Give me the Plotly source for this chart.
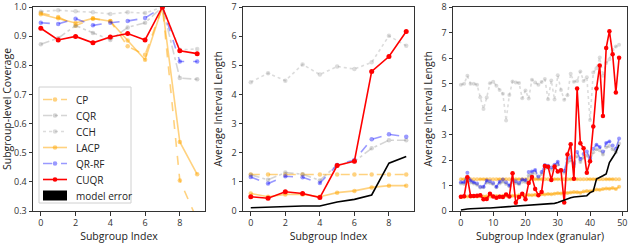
import plotly.graph_objects as go

# ---------------- data ----------------
idx10 = list(range(10))
idx50 = list(range(50))

# Panel 1: subgroup-level coverage
cov_cp = [0.979, 0.966, 0.936, 0.960, 0.952, 0.865, 0.836, 1.0, 0.405, 0.27]
cov_cqr = [0.872, 0.893, 0.936, 0.911, 0.887, 0.930, 0.946, 1.0, 0.756, 0.752]
cov_cch = [0.984, 0.989, 0.985, 0.982, 0.976, 0.982, 0.979, 1.0, 0.853, 0.856]
cov_lacp = [0.975, 0.961, 0.945, 0.961, 0.951, 0.885, 0.819, 1.0, 0.537, 0.426]
cov_qrrf = [0.946, 0.942, 0.960, 0.937, 0.946, 0.952, 0.962, 1.0, 0.813, 0.813]
cov_cuqr = [0.927, 0.887, 0.899, 0.877, 0.897, 0.909, 0.887, 1.0, 0.850, 0.840]

# Panel 2: average interval length
len_cp = [1.25, 1.25, 1.25, 1.25, 1.25, 1.25, 1.25, 1.25, 1.25, 1.25]
len_cqr = [1.24, 1.07, 1.32, 1.26, 1.05, 1.58, 1.70, 2.15, 2.43, 2.43]
len_cch = [4.42, 4.73, 4.47, 5.03, 4.68, 4.96, 4.87, 5.10, 6.01, 5.67]
len_lacp = [0.60, 0.49, 0.57, 0.57, 0.49, 0.63, 0.69, 0.81, 0.87, 0.87]
len_qrrf = [1.17, 0.94, 1.19, 1.16, 0.96, 1.58, 1.75, 2.46, 2.63, 2.55]
len_cuqr = [0.49, 0.44, 0.66, 0.60, 0.46, 1.56, 1.71, 4.79, 5.30, 6.16]
len_err = [0.11, 0.13, 0.16, 0.17, 0.17, 0.31, 0.40, 0.55, 1.64, 1.87]

# Panel 3: average interval length (granular)
g_cp = [1.25] * 50
g_cqr = [1.08, 1.06, 1.35, 1.12, 1.08, 1.03, 0.92, 0.93, 1.12, 1.10,
         1.05, 0.93, 1.08, 1.15, 1.06, 0.97, 1.15, 1.10, 1.05, 1.15,
         1.14, 1.40, 1.45, 1.50, 1.30, 1.45, 1.68, 1.70, 1.62, 1.72,
         1.82, 1.55, 1.50, 1.90, 1.98, 1.75, 2.15, 1.92, 2.10, 2.18,
         1.98, 2.30, 2.42, 2.38, 2.22, 2.50, 2.55, 2.42, 2.30, 2.65]
g_cch = [4.95, 4.99, 5.30, 4.99, 4.99, 4.95, 4.46, 4.00, 4.45, 5.01,
         5.07, 4.91, 4.75, 4.60, 3.55, 4.55, 5.08, 5.04, 5.02, 4.42,
         4.73, 4.41, 5.15, 5.04, 4.95, 5.06, 5.18, 4.38, 5.12, 4.37,
         5.32, 4.75, 4.36, 4.54, 5.38, 5.07, 5.10, 5.47, 5.10, 5.25,
         3.57, 5.43, 5.60, 6.02, 5.30, 5.80, 5.95, 6.32, 6.45, 6.52]
g_lacp = [0.55, 0.56, 0.57, 0.56, 0.58, 0.57, 0.58, 0.57, 0.58, 0.57,
          0.58, 0.59, 0.58, 0.60, 0.59, 0.58, 0.60, 0.59, 0.62, 0.61,
          0.62, 0.63, 0.62, 0.64, 0.63, 0.66, 0.65, 0.67, 0.66, 0.68,
          0.70, 0.69, 0.72, 0.71, 0.73, 0.75, 0.74, 0.72, 0.76, 0.78,
          0.77, 0.80, 0.84, 0.83, 0.86, 0.88, 0.87, 0.90, 0.86, 0.95]
g_qrrf = [1.13, 1.13, 1.50, 1.20, 1.13, 1.08, 0.95, 0.95, 1.20, 1.17,
          1.10, 0.95, 1.15, 1.24, 1.13, 1.00, 1.24, 1.17, 1.10, 1.24,
          1.21, 1.53, 1.55, 1.61, 1.35, 1.53, 1.80, 1.77, 1.71, 1.81,
          1.93, 1.60, 1.57, 2.04, 2.11, 1.84, 2.31, 2.04, 2.24, 2.33,
          2.07, 2.44, 2.60, 2.51, 2.33, 2.67, 2.73, 2.57, 2.44, 2.84]
g_cuqr = [0.56, 0.58, 1.32, 0.59, 0.59, 0.60, 0.62, 0.46, 0.47, 0.68,
          0.57, 0.52, 0.56, 0.55, 0.65, 0.57, 1.48, 0.32, 0.55, 0.68,
          0.46, 1.10, 1.33, 0.86, 0.62, 0.75, 1.76, 1.74, 1.22, 1.75,
          1.55, 1.60, 0.33, 2.22, 2.62, 1.26, 4.80, 2.66, 2.46, 1.50,
          1.95, 3.31, 4.80, 5.71, 3.73, 6.39, 7.05, 6.15, 4.65, 6.01]
g_err = [0.04, 0.07, 0.08, 0.09, 0.10, 0.10, 0.11, 0.11, 0.12, 0.12,
         0.13, 0.13, 0.14, 0.14, 0.15, 0.15, 0.16, 0.17, 0.18, 0.19,
         0.20, 0.21, 0.22, 0.23, 0.24, 0.25, 0.26, 0.27, 0.28, 0.30,
         0.33, 0.38, 0.44, 0.48, 0.52, 0.55, 0.56, 0.56, 0.57, 0.60,
         0.72, 0.78, 1.25, 1.33, 1.38, 1.45, 1.90, 2.10, 2.30, 2.60]

names = ["CP", "CQR", "CCH", "LACP", "QR-RF", "CUQR"]
legend_labels = names + ["model error"]

# ---------------- styles ----------------
ORANGE = "rgba(255,165,0,0.5)"
GREY = "rgba(128,128,128,0.33)"
GREY2 = "rgba(128,128,128,0.28)"
BLUE = "rgba(0,0,255,0.4)"
RED = "rgb(255,0,0)"
styles = {
    "CP": dict(color=ORANGE, dash="dash"),
    "CQR": dict(color=GREY, dash="dashdot"),
    "CCH": dict(color=GREY2, dash="dot"),
    "LACP": dict(color=ORANGE, dash="solid"),
    "QR-RF": dict(color=BLUE, dash="dash"),
    "CUQR": dict(color=RED, dash="solid"),
}

fig = go.Figure()

panels = [
    ("x", "y", idx10, [cov_cp, cov_cqr, cov_cch, cov_lacp, cov_qrrf, cov_cuqr], None, 4.5),
    ("x2", "y2", idx10, [len_cp, len_cqr, len_cch, len_lacp, len_qrrf, len_cuqr], len_err, 4.5),
    ("x3", "y3", idx50, [g_cp, g_cqr, g_cch, g_lacp, g_qrrf, g_cuqr], g_err, 4),
]

for xa, ya, xs, series, err, msize in panels:
    for nm, ys in zip(names, series):
        st = styles[nm]
        is_red = nm == "CUQR"
        fig.add_trace(go.Scatter(
            x=xs, y=ys, xaxis=xa, yaxis=ya, name=nm, mode="lines+markers",
            line=dict(color=st["color"], dash=st["dash"], width=1.6),
            marker=dict(color=st["color"], size=msize + (0.5 if is_red else 0), symbol="circle"),
            showlegend=False,
        ))
    if err is not None:
        fig.add_trace(go.Scatter(
            x=xs, y=err, xaxis=xa, yaxis=ya, name="model error", mode="lines",
            line=dict(color="black", width=1.6), showlegend=False,
        ))

FONT = "Open Sans"
AX = "#333333"
W, H = 631, 243
MT, MB = 7, 32
PH = H - MT - MB
doms = [(33 / W, 205 / W), (243 / W, 414 / W), (453 / W, 627 / W)]


def px(xp):
    return xp / W


def py(yp):
    return (H - MB - yp) / PH


# ---------------- hand-built legend (matplotlib-like compact layout) ----------------
shapes = []
annotations = []
shapes.append(dict(type="rect", xref="paper", yref="paper", layer="above",
                   x0=px(39), x1=px(131), y0=py(203), y1=py(87),
                   line=dict(color="#d0d0d0", width=1), fillcolor="rgba(255,255,255,0.85)"))
row0, rstep = 99.5, 16
for i, lab in enumerate(legend_labels):
    yc = row0 + i * rstep
    if lab in styles:
        st = styles[lab]
        shapes.append(dict(type="line", xref="paper", yref="paper", layer="above",
                           x0=px(43), x1=px(67), y0=py(yc), y1=py(yc),
                           line=dict(color=st["color"], dash=st["dash"], width=1.6)))
        r = 2.3
        shapes.append(dict(type="circle", xref="paper", yref="paper", layer="above",
                           x0=px(55 - r), x1=px(55 + r), y0=py(yc + r), y1=py(yc - r),
                           line=dict(width=0), fillcolor=st["color"]))
    else:
        shapes.append(dict(type="rect", xref="paper", yref="paper", layer="above",
                           x0=px(43), x1=px(67), y0=py(yc + 5), y1=py(yc - 5),
                           line=dict(width=0), fillcolor="black"))
    annotations.append(dict(text=lab, xref="paper", yref="paper", x=px(74), y=py(yc),
                            xanchor="left", yanchor="middle", showarrow=False,
                            font=dict(family=FONT, size=10, color="#222222")))

common = dict(showline=True, linecolor=AX, linewidth=1, mirror=True, ticks="outside",
              ticklen=3.5, tickcolor=AX, tickwidth=1, showgrid=False, zeroline=False,
              tickfont=dict(family=FONT, size=9, color="#333333"))
TF = dict(size=10.5)

fig.update_layout(
    width=W, height=H,
    margin=dict(l=0, r=0, t=MT, b=MB),
    plot_bgcolor="white", paper_bgcolor="white",
    font=dict(family=FONT, size=11, color="#222222"),
    showlegend=False,
    shapes=shapes, annotations=annotations,
    xaxis=dict(domain=doms[0], range=[-0.45, 9.45], tickvals=[0, 2, 4, 6, 8], anchor="y",
               title=dict(text="Subgroup Index", standoff=2, font=TF), **common),
    yaxis=dict(domain=[0, 1], range=[0.3, 1.0], tickvals=[0.3, 0.4, 0.5, 0.6, 0.7, 0.8, 0.9, 1.0],
               tickformat=".1f", anchor="x",
               title=dict(text="Subgroup-level Coverage", standoff=4, font=TF), **common),
    xaxis2=dict(domain=doms[1], range=[-0.45, 9.45], tickvals=[0, 2, 4, 6, 8], anchor="y2",
                title=dict(text="Subgroup Index", standoff=2, font=TF), **common),
    yaxis2=dict(domain=[0, 1], range=[0, 7], tickvals=list(range(8)), anchor="x2",
                title=dict(text="Average Interval Length", standoff=6, font=TF), **common),
    xaxis3=dict(domain=doms[2], range=[-2.45, 51.45], tickvals=[0, 10, 20, 30, 40, 50], anchor="y3",
                title=dict(text="Subgroup Index (granular)", standoff=2, font=TF), **common),
    yaxis3=dict(domain=[0, 1], range=[0, 8], tickvals=list(range(9)), anchor="x3",
                title=dict(text="Average Interval Length", standoff=6, font=TF), **common),
)

fig.write_html("out.html", config={"displayModeBar": False},
               post_script="document.body.style.margin='0';document.body.style.overflow='hidden';")
